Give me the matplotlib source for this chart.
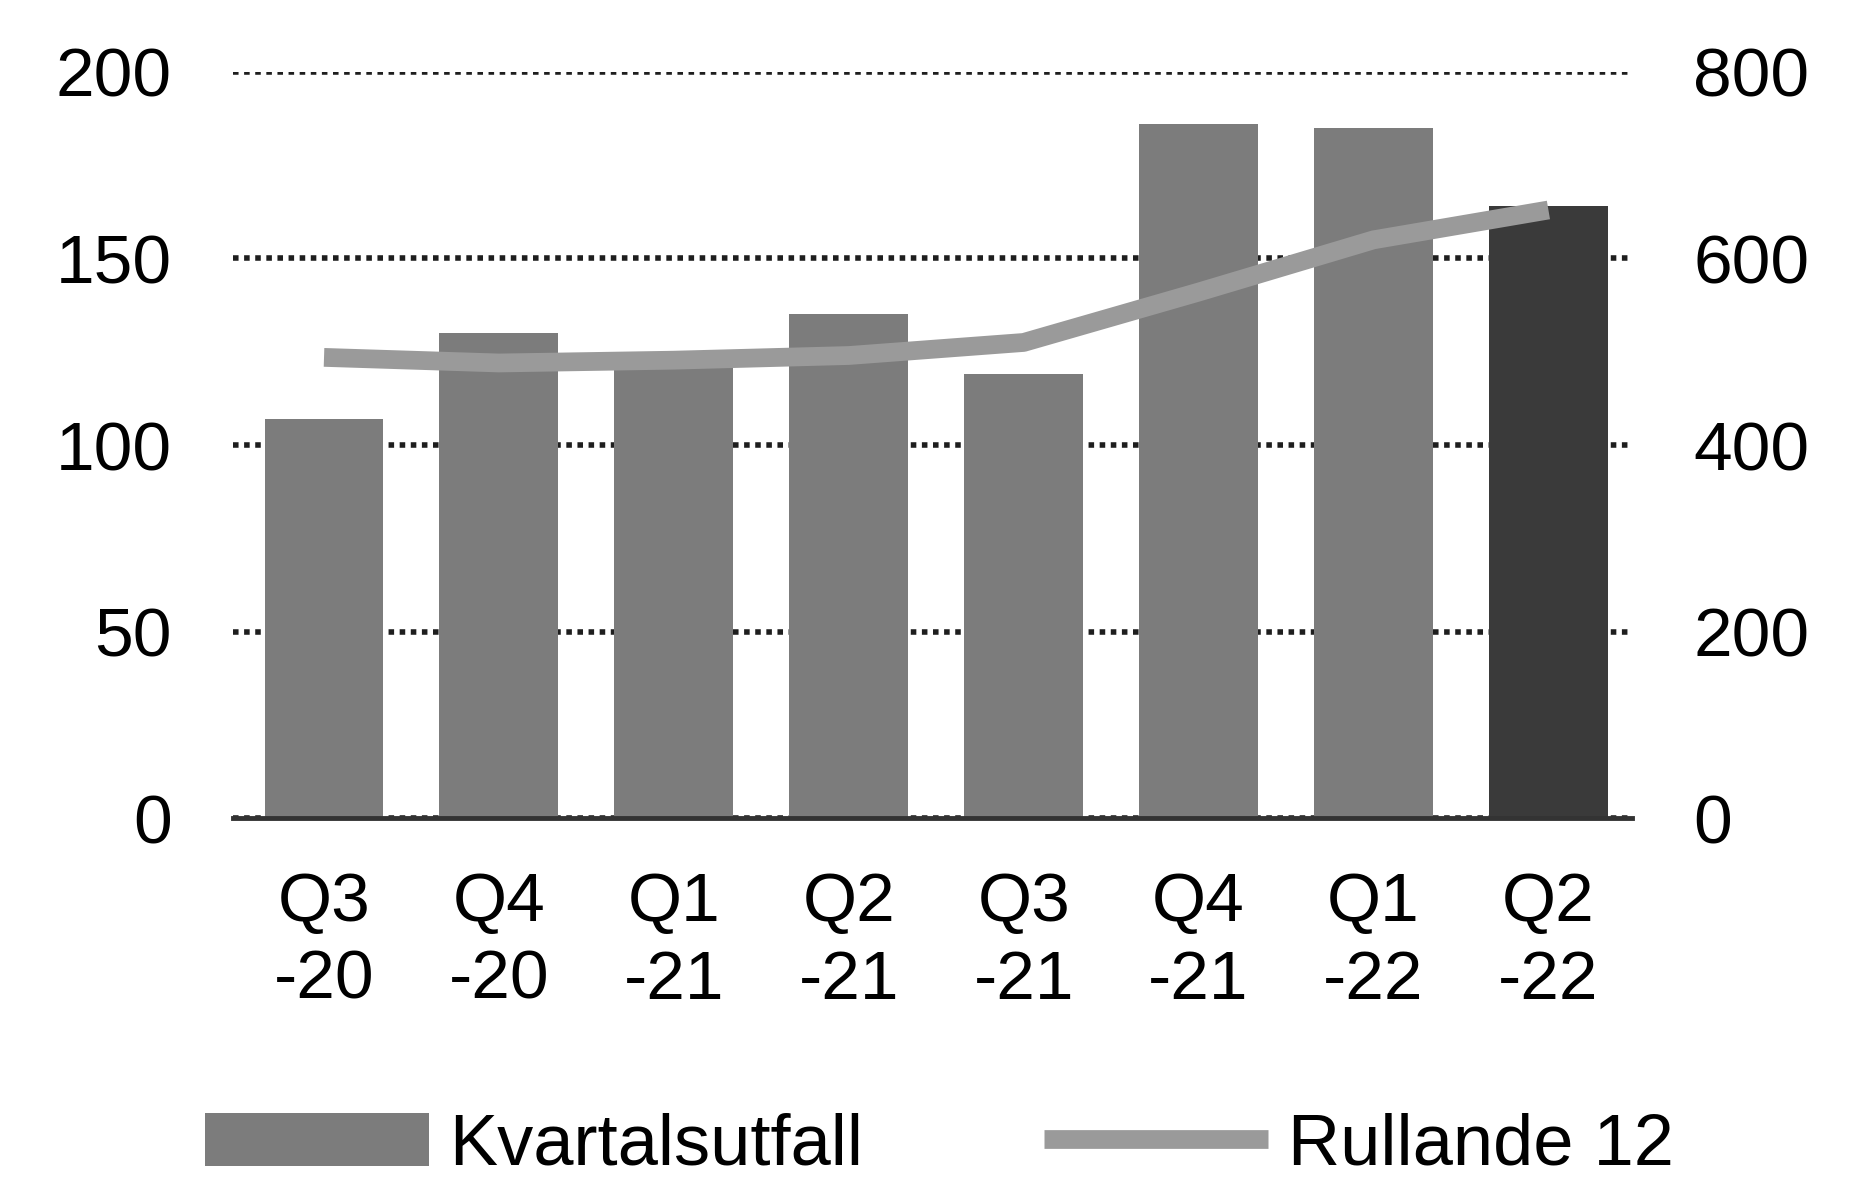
import matplotlib
matplotlib.use("Agg")
import matplotlib.pyplot as plt
import numpy as np

categories = ["Q3\n-20", "Q4\n-20", "Q1\n-21", "Q2\n-21", "Q3\n-21", "Q4\n-21", "Q1\n-22", "Q2\n-22"]
kvartalsutfall = [107, 130, 124, 135, 119, 186, 185, 164]
rullande_12 = [494, 488, 491, 496, 510, 564, 620, 652]
left_ticks = [0, 50, 100, 150, 200]
right_ticks = [0, 200, 400, 600, 800]

plt.rcParams['font.family'] = ['Liberation Sans', 'DejaVu Sans']

fig = plt.figure(figsize=(18.72, 11.79), dpi=100)
ax = fig.add_axes([0.1245, 0.306, 0.7475, 0.633])
ax2 = ax.twinx()

x = np.arange(len(categories))
bar_colors = ['#7c7c7c'] * (len(categories) - 1) + ['#3a3a3a']
bars = ax.bar(x, kvartalsutfall, width=0.68, color=bar_colors, zorder=2,
              label='Kvartalsutfall')

ax.set_ylim(0, 200)
ax.set_xlim(-0.52, 7.48)
ax.set_yticks(left_ticks)
ax.set_xticks(x)
ax.set_xticklabels(categories, fontsize=50, linespacing=1.27)
ax.tick_params(axis='x', length=0, pad=38)
ax.tick_params(axis='y', length=0, pad=44, labelsize=50)
ax.yaxis.grid(True, linestyle=(0, (1, 1.0)), linewidth=4, color='#1e1e1e', zorder=1)
ax.set_axisbelow(True)
for s in ['top', 'right', 'left']:
    ax.spines[s].set_visible(False)
ax.spines['bottom'].set_linewidth(3.5)
ax.spines['bottom'].set_color('#333333')
ax.spines['bottom'].set_zorder(3)

ax2.set_ylim(0, 800)
ax2.set_yticks(right_ticks)
ax2.tick_params(axis='y', length=0, pad=44, labelsize=50)
for s in ['top', 'right', 'left', 'bottom']:
    ax2.spines[s].set_visible(False)
line, = ax2.plot(x, rullande_12, color='#9a9a9a', linewidth=13.5,
                 solid_capstyle='butt', label='Rullande 12', zorder=4)

fig.legend([bars, line], ['Kvartalsutfall', 'Rullande 12'], ncol=2,
           loc='center', bbox_to_anchor=(0.502, 0.028), frameon=False,
           fontsize=52, handlelength=3.1, handletextpad=0.28,
           columnspacing=2.5, handleheight=0.75)

fig.savefig('out.png', dpi=100, facecolor='white')
